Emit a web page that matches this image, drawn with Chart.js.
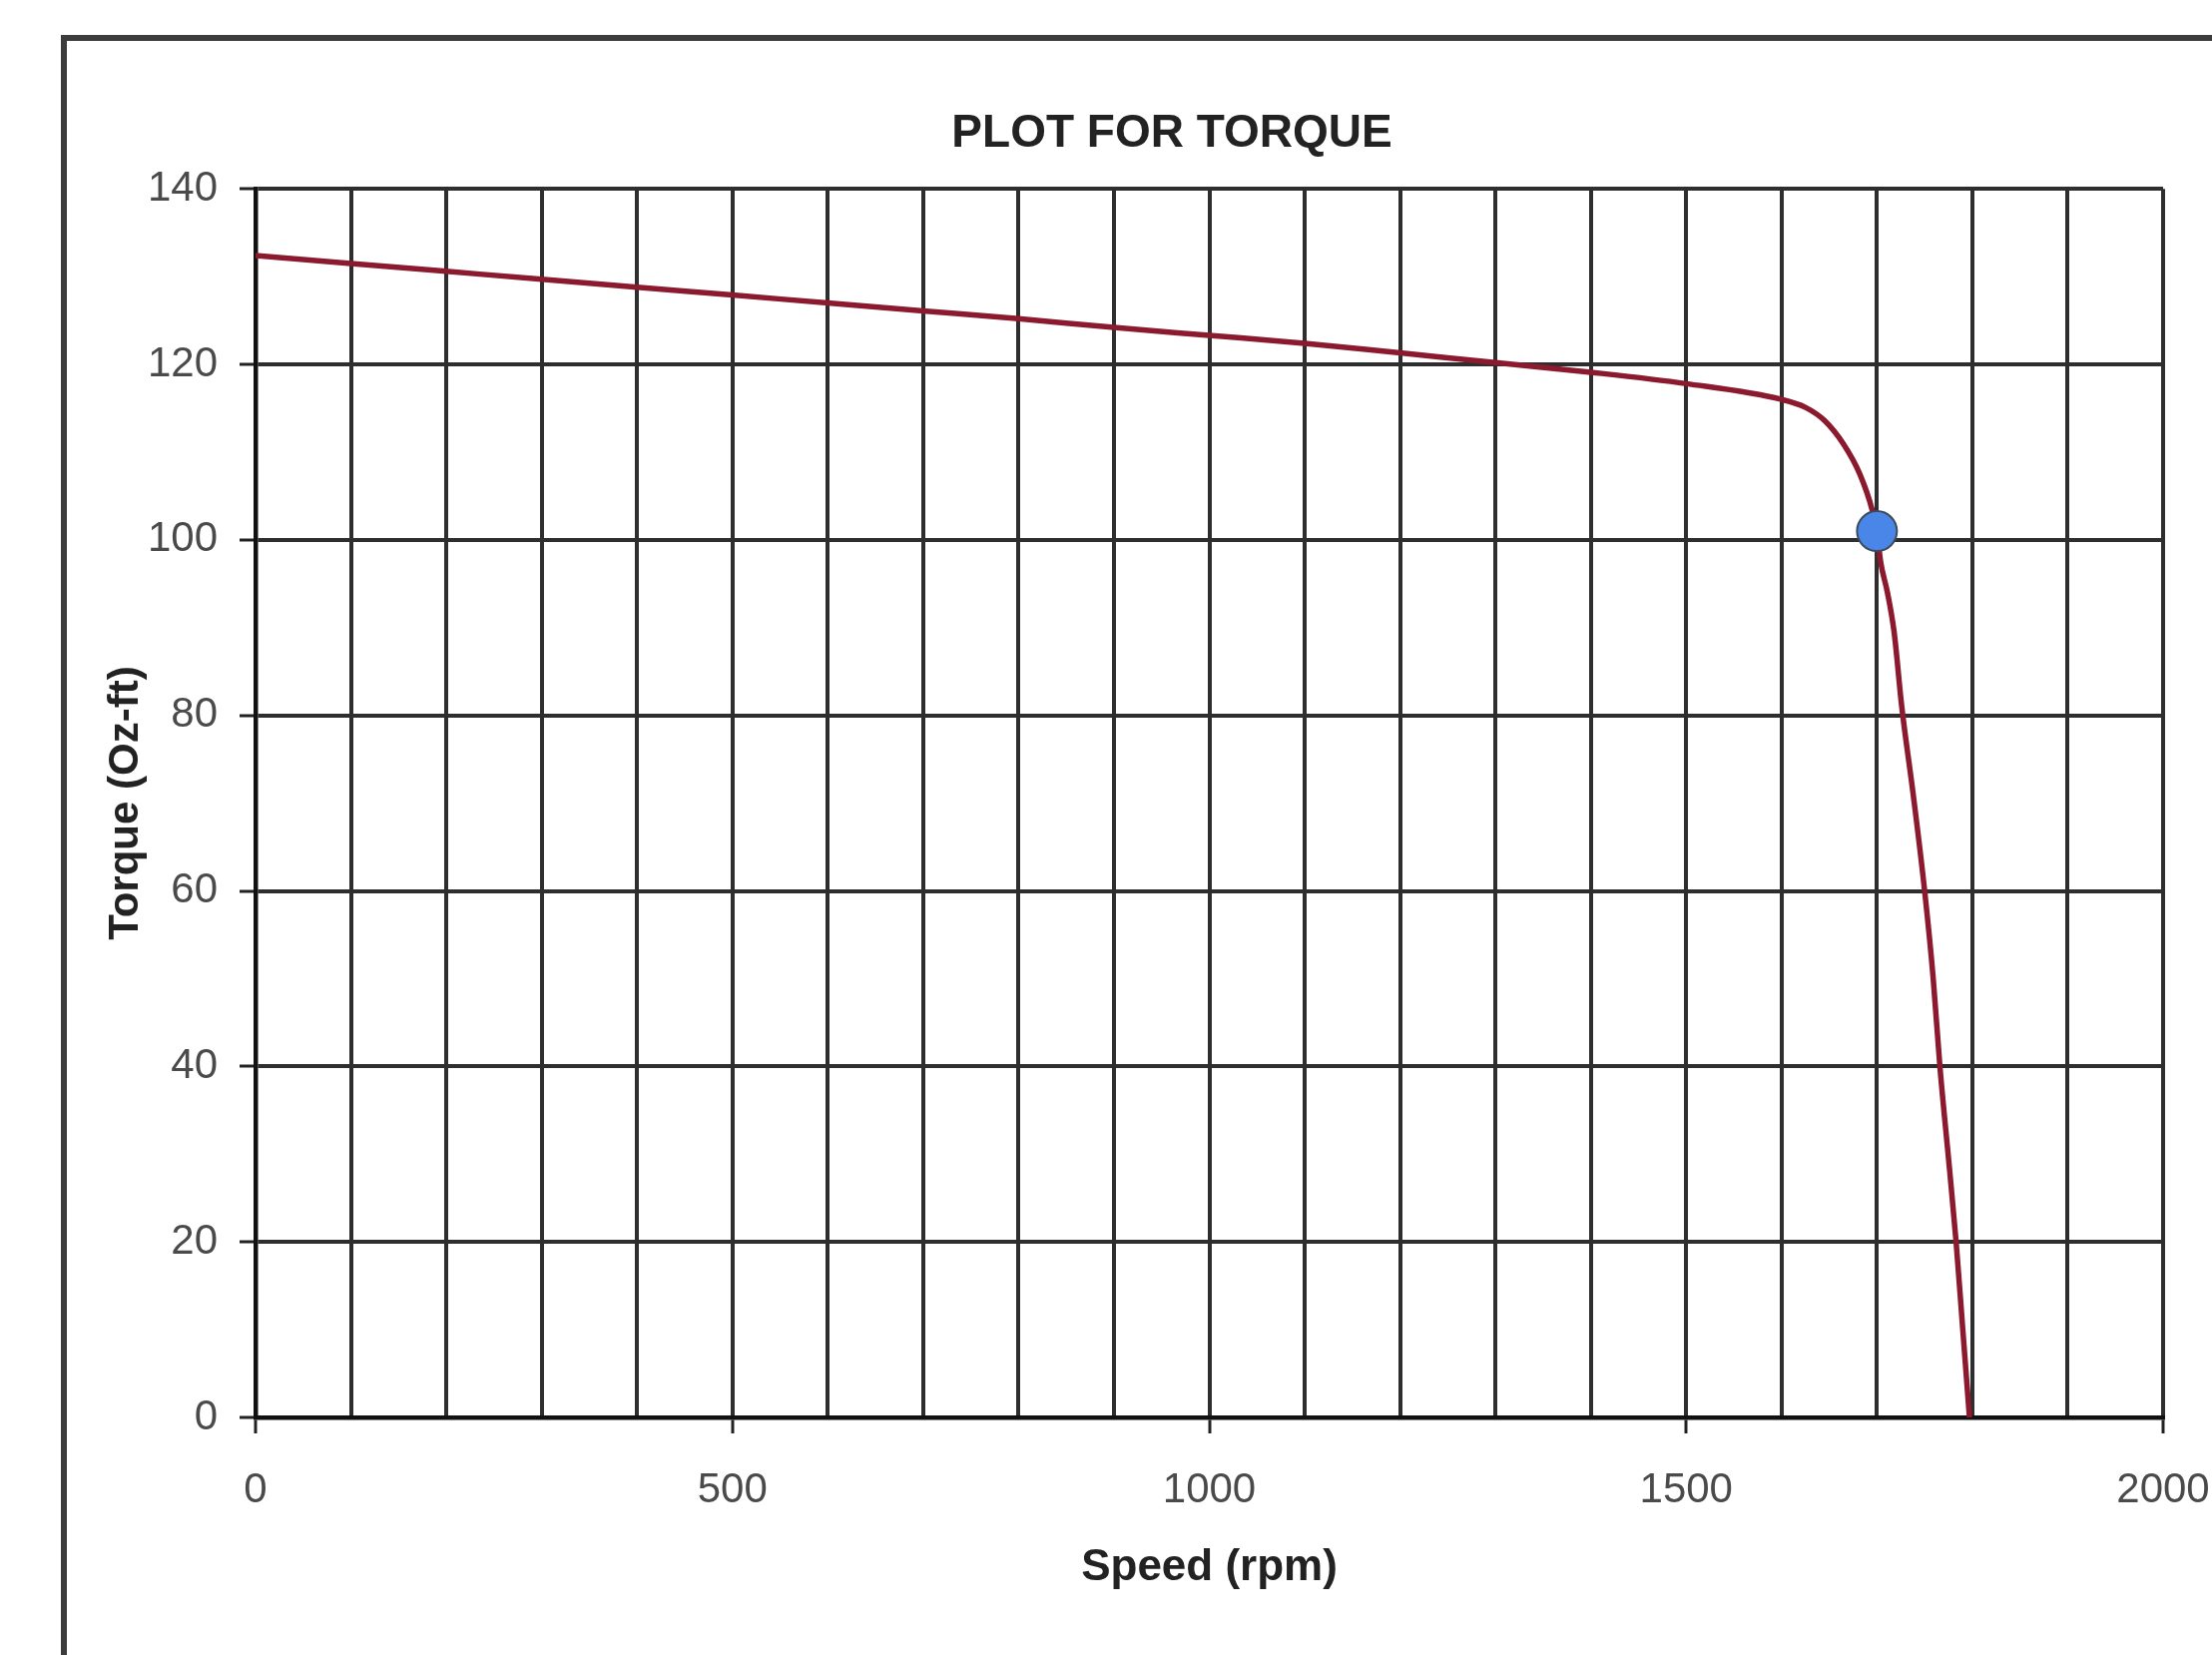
<!DOCTYPE html>
<html>
<head>
<meta charset="utf-8">
<title>Plot for torque</title>
<script src="https://cdn.jsdelivr.net/npm/chart.js@4"></script>
<style>
  html, body { margin: 0; padding: 0; background: #fff; overflow: hidden; }
  #frame {
    position: absolute; left: 61px; top: 35px; width: 3000px; height: 3000px;
    border-left: 6px solid #3c3c3c; border-top: 6px solid #3c3c3c;
  }
  #torque { position: absolute; left: 0; top: 0; display: block; }
</style>
</head>
<body>
<div id="frame"></div>
<canvas id="torque" width="2247" height="1658"></canvas>
<script>
// values
const speedRpm = [0, 100, 200, 300, 400, 500, 600, 700, 800, 900, 1000, 1100, 1200, 1300, 1400, 1500, 1600, 1625, 1645, 1665, 1682, 1695, 1700, 1704, 1711, 1718, 1726, 1738, 1750, 1759, 1766, 1776, 1783, 1790, 1797];
const torqueOzFt = [132.4, 131.5, 130.6, 129.7, 128.8, 127.9, 127.0, 126.1, 125.2, 124.2, 123.3, 122.4, 121.3, 120.2, 119.1, 117.8, 116.0, 115.1, 113.6, 110.9, 107.5, 103.4, 100.8, 97.4, 94.0, 89.5, 81, 71, 60, 50, 40, 28.4, 20, 10, 0];

const markerSpeed = [1700];
const markerTorque = [101];

const xTicks = { min: 0, max: 2000, step: 100, labelEvery: 500 };
const yTicks = { min: 0, max: 140, step: 20 };

const FONT = "'Liberation Sans', Arial, sans-serif";

function initiateChart() {
  const curve = speedRpm.map((s, i) => ({ x: s, y: torqueOzFt[i] }));
  const marker = markerSpeed.map((s, i) => ({ x: s, y: markerTorque[i] }));

  new Chart(document.getElementById("torque").getContext("2d"), {
    type: "line",
    data: {
      datasets: [
        {
          label: "marker",
          data: marker,
          showLine: false,
          pointRadius: 20,
          pointBackgroundColor: "#4a86e8",
          pointBorderColor: "#3d4a5a",
          pointBorderWidth: 2,
          order: 0,
        },
        {
          label: "Torque",
          data: curve,
          borderColor: "#8b1a2e",
          borderWidth: 5.5,
          pointRadius: 0,
          cubicInterpolationMode: "monotone",
          fill: false,
          order: 1,
        },
      ],
    },
    options: {
      responsive: false,
      animation: false,
      devicePixelRatio: 1,
      layout: { padding: { left: 101, right: 0, top: 0, bottom: 0 } },
      plugins: {
        legend: { display: false },
        tooltip: { enabled: false },
        title: {
          display: true,
          text: "PLOT FOR TORQUE",
          color: "#222",
          font: { family: FONT, size: 46, weight: "bold" },
          padding: { top: 107, bottom: 27 },
        },
      },
      scales: {
        x: {
          type: "linear",
          min: xTicks.min,
          max: xTicks.max,
          afterFit: function (scale) {
            scale.height = 238;
            scale.paddingLeft = 0;
            scale.paddingRight = 80;
          },
          ticks: {
            stepSize: xTicks.step,
            autoSkip: false,
            maxRotation: 0,
            padding: 32,
            color: "#4a4a4a",
            font: { family: FONT, size: 42 },
            callback: (v) => (v % xTicks.labelEvery === 0 ? v : ""),
          },
          grid: {
            color: "#2e2e2e",
            lineWidth: 4,
            tickLength: 16,
            tickWidth: 3,
            tickColor: (ctx) =>
              ctx.tick && ctx.tick.value % xTicks.labelEvery === 0 ? "#222" : "rgba(0,0,0,0)",
          },
          border: { display: true, color: "#111", width: 4.5 },
          title: {
            display: true,
            text: "Speed (rpm)",
            color: "#222",
            font: { family: FONT, size: 44, weight: "bold" },
            padding: { top: 0, bottom: 61 },
          },
        },
        y: {
          min: yTicks.min,
          max: yTicks.max,
          afterFit: function (scale) {
            scale.width = 155;
          },
          ticks: {
            stepSize: yTicks.step,
            padding: 22,
            color: "#4a4a4a",
            font: { family: FONT, size: 42 },
          },
          grid: {
            color: "#2e2e2e",
            lineWidth: 4,
            tickLength: 16,
            tickWidth: 3,
            tickColor: "#222",
          },
          border: { display: true, color: "#111", width: 4.5 },
          title: {
            display: true,
            text: "Torque (Oz-ft)",
            color: "#222",
            font: { family: FONT, size: 42, weight: "bold" },
            padding: { top: 0, bottom: 0 },
          },
        },
      },
    },
  });
}

initiateChart();
</script>
</body>
</html>
